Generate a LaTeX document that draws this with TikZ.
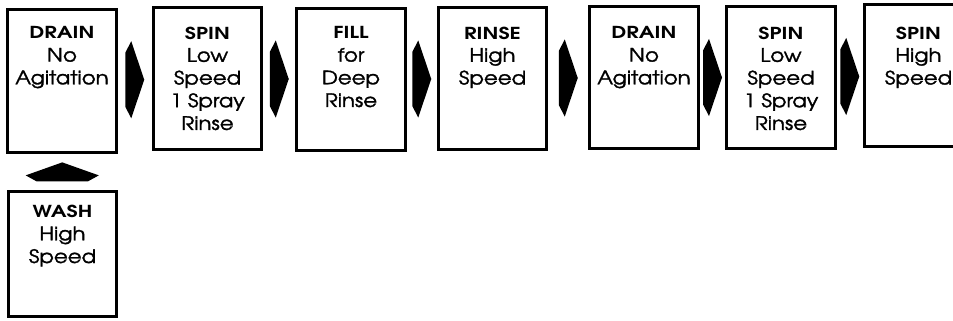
\documentclass[tikz,border=0pt]{standalone}
\usepackage{fontspec}
\setmainfont{texgyreadventor}[Extension=.otf,UprightFont=*-regular,BoldFont=*-bold,FakeStretch=1.15,UprightFeatures={FakeBold=1.6},BoldFeatures={FakeStretch=1.3}]
\usetikzlibrary{positioning,calc}
\tikzset{
  stage/.style={draw,line width=2.8pt,minimum width=108.5pt,minimum height=142.5pt,inner sep=0},
  stagetext/.style={anchor=north,align=center,inner sep=0,font=\fontsize{18.5}{22.7}\selectfont},
  flowarrow/.pic={\path[fill] (-9.5,-27) -- (-3.5,-38.5) -- (9.5,0) -- (-3.5,38.5) -- (-9.5,27) -- cycle;}
}
\newcommand{\stagehead}[1]{{\fontsize{16.5}{22.7}\selectfont\bfseries #1}}
\begin{document}
\begin{tikzpicture}[x=1pt,y=1pt]
\clip (0,0) rectangle (953,-321);
\coordinate (top) at (0,-26.5);
\coordinate (washtop) at (0,-205);
%stages
\node[stage] (b1) at (62,-81) {};
\node[stage] (b2) at (207.5,-78.5) {};
\node[stage] (b3) at (351,-79.5) {};
\node[stage] (b4) at (492.5,-78.5) {};
\node[stage] (b5) at (644,-77.5) {};
\node[stage] (b6) at (781,-77.5) {};
\node[stage] (b7) at (918.5,-75.5) {};
\node[stage,minimum height=125pt] (wash) at (62.5,-254) {};
%labels
\node[stagetext] (t1) at (b1.north |- top) {\stagehead{DRAIN}\\No\\Agitation};
\node[stagetext] (t2) at (b2.north |- top) {\stagehead{SPIN}\\Low\\Speed\\1 Spray\\Rinse};
\node[stagetext] (t3) at (b3.north |- top) {\stagehead{FILL}\\for\\Deep\\Rinse};
\node[stagetext] (t4) at (b4.north |- top) {\stagehead{RINSE}\\High\\Speed};
\node[stagetext] (t5) at (b5.north |- top) {\stagehead{DRAIN}\\No\\Agitation};
\node[stagetext] (t6) at (b6.north |- top) {\stagehead{SPIN}\\Low\\Speed\\1 Spray\\Rinse};
\node[stagetext] (t7) at (b7.north |- top) {\stagehead{SPIN}\\High\\Speed};
\node[stagetext] (t0) at (wash.north |- washtop) {\stagehead{WASH}\\High\\Speed};
%arrows
\foreach \i/\j in {1/2,2/3,3/4,4/5,5/6,6/7}{
    \coordinate (m\i) at ($(b\i.east)!.5!(b\j.west)$);
    \pic at (m\i) {flowarrow};
}
\coordinate (m0) at ($(wash.north)!.5!(b1.south)$);
\pic[rotate=90,yscale=.95] at (m0) {flowarrow};
\end{tikzpicture}
\end{document}
